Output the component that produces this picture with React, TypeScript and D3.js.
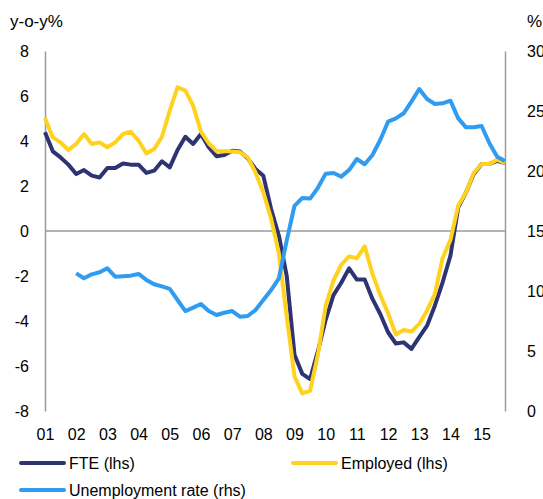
import React, { useEffect, useRef } from "react";
import * as d3 from "d3";

// quarterly, 2001Q1 - 2015Q4
const years = ["01", "02", "03", "04", "05", "06", "07", "08", "09", "10", "11", "12", "13", "14", "15"];

const fte = [
  4.39, 3.54, 3.27, 2.95, 2.53, 2.71, 2.46, 2.38, 2.8, 2.8,
  3.0, 2.95, 2.95, 2.58, 2.68, 3.1, 2.83, 3.6, 4.19, 3.87,
  4.31, 3.72, 3.32, 3.38, 3.57, 3.53, 3.23, 2.76, 2.46, 0.98,
  -0.21, -1.99, -5.5, -6.35, -6.58, -5.35, -3.95, -2.85, -2.3, -1.66,
  -2.16, -2.16, -3.02, -3.69, -4.5, -5.0, -4.95, -5.24, -4.72, -4.21,
  -3.32, -2.28, -1.1, 1.05, 1.72, 2.53, 2.98, 2.98, 3.12, 3.02,
];

const employed = [
  5.02, 4.16, 3.94, 3.6, 3.87, 4.31, 3.87, 3.94, 3.72, 3.94,
  4.31, 4.41, 4.01, 3.45, 3.64, 4.19, 5.35, 6.39, 6.24, 5.57,
  4.42, 3.9, 3.55, 3.55, 3.53, 3.5, 3.27, 2.6, 1.72, 0.55,
  -1.0, -3.8, -6.46, -7.22, -7.1, -5.5, -3.32, -2.2, -1.5, -1.13,
  -1.21, -0.68, -1.9, -2.85, -3.65, -4.6, -4.4, -4.47, -4.13, -3.54,
  -2.8, -1.2, -0.4, 1.12, 1.72, 2.58, 2.98, 2.98, 3.17, 3.02,
];

const unemployment: (number | null)[] = [
  null, null, null, null, 11.47, 11.06, 11.39, 11.56, 11.89, 11.19,
  11.23, 11.28, 11.42, 10.92, 10.56, 10.38, 10.17, 9.25, 8.33, 8.61,
  8.92, 8.33, 8.0, 8.19, 8.33, 7.86, 7.92, 8.42, 9.25, 10.08,
  11.06, 14.2, 17.1, 17.75, 17.7, 18.6, 19.78, 19.83, 19.53, 20.08,
  21.0, 20.56, 21.33, 22.58, 24.11, 24.39, 24.81, 25.78, 26.83, 26.0,
  25.58, 25.64, 25.86, 24.39, 23.64, 23.64, 23.75, 22.31, 21.19, 20.83,
];

const lhsTicks = [-8, -6, -4, -2, 0, 2, 4, 6, 8];
const rhsTicks = [0, 5, 10, 15, 20, 25, 30];

const FONT = "'Liberation Sans', Arial, sans-serif";
const NAVY = "#2e3473";
const YELLOW = "#ffd21f";
const BLUE = "#2f9cf2";
const GREY = "#9a9a9a";

export default function App() {
  const ref = useRef<SVGSVGElement>(null);

  useEffect(() => {
    const svg = d3.select(ref.current);
    svg.selectAll("*").remove();

    const left = 45, right = 505, top = 51, bottom = 411;

    const x = d3.scaleLinear().domain([0, fte.length - 1]).range([left, right]);
    const yL = d3.scaleLinear().domain([-8, 8]).range([bottom, top]);
    const yR = d3.scaleLinear().domain([0, 30]).range([bottom, top]);

    // left axis (plain hyphen for negatives, like the source)
    const gl = svg.append("g")
      .attr("transform", `translate(${left},0)`)
      .call(d3.axisLeft(yL).tickValues(lhsTicks).tickSize(0).tickPadding(16).tickFormat((d) => String(d)));
    // right axis
    const gr = svg.append("g")
      .attr("transform", `translate(${right},0)`)
      .call(d3.axisRight(yR).tickValues(rhsTicks).tickSize(0).tickPadding(22).tickFormat((d) => String(d)));
    // bottom labels
    const gb = svg.append("g")
      .attr("transform", `translate(0,${bottom})`)
      .call(d3.axisBottom(x).tickValues(years.map((_, i) => i * 4)).tickSize(0).tickPadding(18)
        .tickFormat((d) => years[(d as number) / 4]));
    gb.select(".domain").remove();

    [gl, gr, gb].forEach((g) => {
      g.select(".domain").attr("stroke", GREY).attr("stroke-width", 1.5);
      g.selectAll("text").attr("font-size", 16).attr("font-family", FONT).attr("fill", "#000");
    });

    // zero line
    svg.append("line")
      .attr("x1", left).attr("x2", right)
      .attr("y1", yL(0)).attr("y2", yL(0))
      .attr("stroke", GREY).attr("stroke-width", 1.5);

    const lineL = d3.line<number>().x((_, i) => x(i)).y((d) => yL(d));
    const lineR = d3.line<number | null>()
      .defined((d) => d != null)
      .x((_, i) => x(i)).y((d) => yR(d as number));

    svg.append("path").datum(fte).attr("d", lineL)
      .attr("fill", "none").attr("stroke", NAVY).attr("stroke-width", 4).attr("stroke-linejoin", "round");
    svg.append("path").datum(employed).attr("d", lineL)
      .attr("fill", "none").attr("stroke", YELLOW).attr("stroke-width", 4).attr("stroke-linejoin", "round");
    svg.append("path").datum(unemployment).attr("d", lineR)
      .attr("fill", "none").attr("stroke", BLUE).attr("stroke-width", 4).attr("stroke-linejoin", "round");

    // axis titles
    svg.append("text").attr("x", 10).attr("y", 27).text("y-o-y%")
      .attr("font-size", 17).attr("font-family", FONT);
    svg.append("text").attr("x", 527).attr("y", 27).text("%")
      .attr("font-size", 17).attr("font-family", FONT);

    // legend
    const legend = [
      { label: "FTE (lhs)", color: NAVY, x: 21, y: 463 },
      { label: "Employed (lhs)", color: YELLOW, x: 293, y: 463 },
      { label: "Unemployment rate (rhs)", color: BLUE, x: 21, y: 490 },
    ];
    const lg = svg.append("g");
    lg.selectAll("line").data(legend).join("line")
      .attr("x1", (d) => d.x).attr("x2", (d) => d.x + 43)
      .attr("y1", (d) => d.y).attr("y2", (d) => d.y)
      .attr("stroke", (d) => d.color).attr("stroke-width", 4).attr("stroke-linecap", "round");
    lg.selectAll("text").data(legend).join("text")
      .attr("x", (d) => d.x + 48).attr("y", (d) => d.y)
      .attr("dy", "0.35em")
      .attr("font-size", 16).attr("font-family", FONT)
      .text((d) => d.label);
  }, []);

  return (
    <svg ref={ref} width={543} height={499}
      style={{ position: "absolute", left: 0, top: 0, background: "#fff" }} />
  );
}
